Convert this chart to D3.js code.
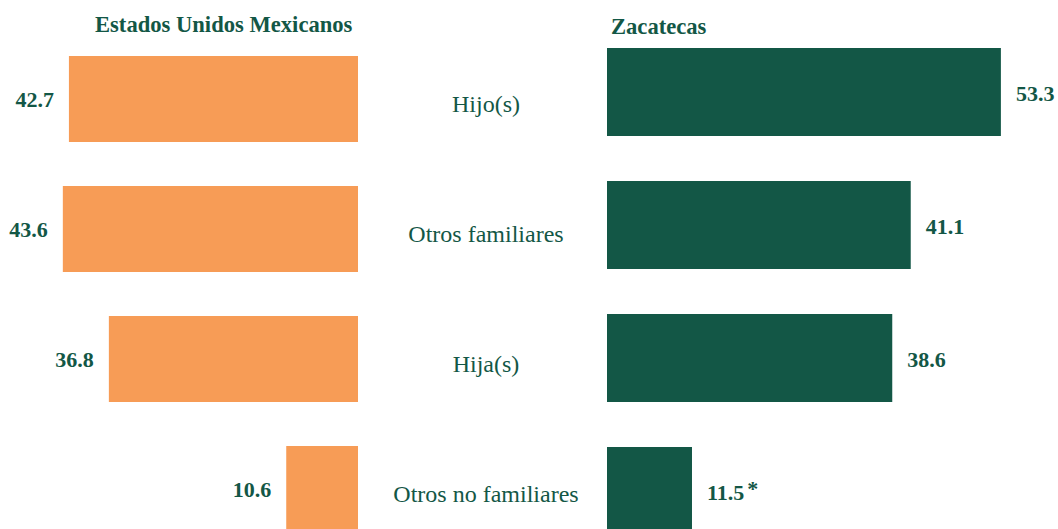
<!DOCTYPE html>
<html>
<head>
<meta charset="utf-8">
<script src="https://cdn.jsdelivr.net/npm/d3@7"></script>
<style>
  html, body { margin: 0; padding: 0; background: #ffffff; }
  svg { display: block; }
  svg text { font-family: "Times New Roman", "Liberation Serif", Times, serif; }
</style>
</head>
<body>
<svg id="chart" width="1058" height="529"></svg>
<script>
// Categories and values
const categories = ["Hijo(s)", "Otros familiares", "Hija(s)", "Otros no familiares"];
const nationalValues = [42.7, 43.6, 36.8, 10.6];
const stateValues = [53.3, 41.1, 38.6, 11.5];
const stateNotes = ["", "", "", "*"];
const panelTitles = ["Estados Unidos Mexicanos", "Zacatecas"];

const orange = "#F79C56";
const green = "#135746";

const svg = d3.select("#chart");

// Left panel: bars grow leftwards from a shared baseline
const yLeft = d3.scaleBand()
  .domain(categories)
  .range([56, 56 + 3 * 130 + 86])
  .paddingInner(44 / 130)
  .paddingOuter(0);

const xLeft = d3.scaleLinear()
  .domain([0, 50])
  .range([358, 358 - 6.77 * 50]);

// Right panel: bars grow rightwards
const yRight = d3.scaleBand()
  .domain(categories)
  .range([48, 48 + 3 * 133 + 88])
  .paddingInner(45 / 133)
  .paddingOuter(0);

const xRight = d3.scaleLinear()
  .domain([0, 60])
  .range([607, 607 + 7.39 * 60]);

const nat = categories.map((c, i) => ({ cat: c, v: nationalValues[i] }));
const st = categories.map((c, i) => ({ cat: c, v: stateValues[i], note: stateNotes[i] }));

// Titles
svg.append("text")
  .attr("x", 95).attr("y", 32)
  .attr("font-size", 22.6).attr("font-weight", 700)
  .attr("fill", green)
  .text(panelTitles[0]);

svg.append("text")
  .attr("x", 611).attr("y", 34)
  .attr("font-size", 22.6).attr("font-weight", 700)
  .attr("fill", green)
  .text(panelTitles[1]);

// Left bars
svg.append("g").selectAll("rect")
  .data(nat).join("rect")
  .attr("x", d => xLeft(d.v))
  .attr("y", d => yLeft(d.cat))
  .attr("width", d => xLeft(0) - xLeft(d.v))
  .attr("height", yLeft.bandwidth())
  .attr("fill", orange);

svg.append("g").selectAll("text")
  .data(nat).join("text")
  .attr("x", d => xLeft(d.v) - 15)
  .attr("y", d => yLeft(d.cat) + yLeft.bandwidth() / 2)
  .attr("dy", "0.36em")
  .attr("text-anchor", "end")
  .attr("font-size", 22).attr("font-weight", 700)
  .attr("fill", green)
  .text(d => d.v.toFixed(1));

// Right bars
svg.append("g").selectAll("rect")
  .data(st).join("rect")
  .attr("x", xRight(0))
  .attr("y", d => yRight(d.cat))
  .attr("width", d => xRight(d.v) - xRight(0))
  .attr("height", yRight.bandwidth())
  .attr("fill", green);

const rLabels = svg.append("g").selectAll("text")
  .data(st).join("text")
  .attr("x", d => xRight(d.v) + 15)
  .attr("y", d => yRight(d.cat) + yRight.bandwidth() / 2)
  .attr("dy", "0.4em")
  .attr("font-size", 22).attr("font-weight", 700)
  .attr("fill", green);

rLabels.append("tspan").text(d => d.v.toFixed(1));
rLabels.filter(d => d.note)
  .append("tspan")
  .attr("dx", 3)
  .attr("dy", -4)
  .attr("font-size", 22)
  .text(d => d.note);

// Category labels between the panels
svg.append("g").selectAll("text")
  .data(categories).join("text")
  .attr("x", 486)
  .attr("y", c => yLeft(c) + yLeft.bandwidth() / 2)
  .attr("dy", "0.54em")
  .attr("text-anchor", "middle")
  .attr("font-size", 24)
  .attr("fill", green)
  .text(c => c);
</script>
</body>
</html>
